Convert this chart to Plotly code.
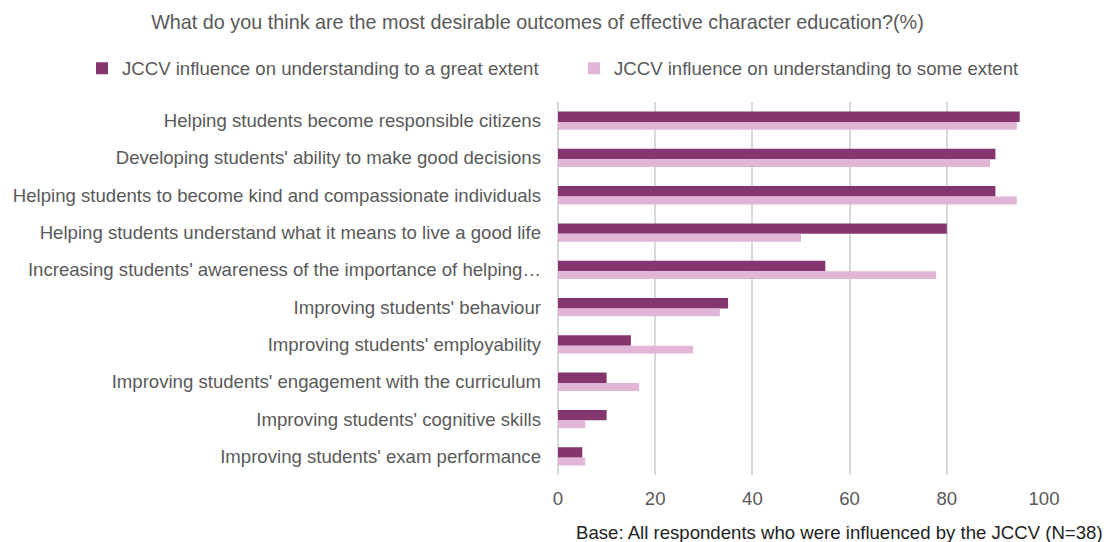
import plotly.graph_objects as go

categories = [
    "Helping students become responsible citizens",
    "Developing students' ability to make good decisions",
    "Helping students to become kind and compassionate individuals",
    "Helping students understand what it means to live a good life",
    "Increasing students' awareness of the importance of helping\u2026",
    "Improving students' behaviour",
    "Improving students' employability",
    "Improving students' engagement with the curriculum",
    "Improving students' cognitive skills",
    "Improving students' exam performance",
]
great_extent = [95, 90, 90, 80, 55, 35, 15, 10, 10, 5]
some_extent = [94.4, 88.9, 94.4, 50.0, 77.8, 33.3, 27.8, 16.7, 5.6, 5.6]
series_names = [
    "JCCV influence on understanding to a great extent",
    "JCCV influence on understanding to some extent",
]
x_ticks = [0, 20, 40, 60, 80, 100]

# page body has an 8px margin; work in window pixels and shift
OFF = 8
W, H = 1111 - OFF, 542 - OFF
ML, MT = 558 - OFF, 101.5 - OFF
MR = 1111 - 1044
MB = 542 - 475
PW = W - ML - MR
PH = H - MT - MB

def px_to_xpaper(px):
    return (px - OFF - ML) / PW

def px_to_ypaper(py):
    return (H - MB - (py - OFF)) / PH

FONT = "Liberation Sans, Arial, sans-serif"
GRAY = "#595959"
FS = 18.6

fig = go.Figure()
fig.add_trace(go.Bar(
    y=categories, x=great_extent, orientation="h", name=series_names[0],
    marker=dict(color="#86366F", line=dict(width=0)),
    offset=-0.245, width=0.28, legend="legend",
))
fig.add_trace(go.Bar(
    y=categories, x=some_extent, orientation="h", name=series_names[1],
    marker=dict(color="#E2B4D6", line=dict(width=0)),
    offset=0.035, width=0.21, legend="legend2",
))

legend_common = dict(
    orientation="h", yanchor="middle", xanchor="left",
    font=dict(family=FONT, size=FS, color=GRAY),
    bgcolor="rgba(0,0,0,0)",
)

fig.update_layout(
    width=W, height=H,
    margin=dict(l=ML, r=MR, t=MT, b=MB, autoexpand=False),
    paper_bgcolor="white", plot_bgcolor="white",
    barmode="overlay",
    font=dict(family=FONT, size=FS, color=GRAY),
    title=dict(
        text="What do you think are the most desirable outcomes of effective character education?(%)",
        x=(537.5 - OFF) / W, xanchor="center", xref="container",
        y=1 - (22 - OFF) / H, yanchor="middle", yref="container",
        font=dict(family=FONT, size=19.8, color=GRAY),
    ),
    legend=dict(x=px_to_xpaper(82), y=px_to_ypaper(68), **legend_common),
    legend2=dict(x=px_to_xpaper(574), y=px_to_ypaper(68), **legend_common),
    xaxis=dict(
        range=[0, 100], tickvals=x_ticks, ticktext=[str(v) for v in x_ticks],
        showgrid=True, gridcolor="#D9D9D9", gridwidth=1.5,
        zeroline=True, zerolinecolor="#D9D9D9", zerolinewidth=1.5,
        showline=False, ticks="", ticklabelstandoff=10,
        tickfont=dict(family=FONT, size=FS, color=GRAY),
        fixedrange=True,
    ),
    yaxis=dict(
        type="category", autorange="reversed",
        showgrid=False, zeroline=False, showline=False, ticks="",
        ticklabelstandoff=16,
        tickfont=dict(family=FONT, size=FS, color=GRAY),
        fixedrange=True,
    ),
    showlegend=True,
)

fig.add_annotation(
    text="Base: All respondents who were influenced by the JCCV (N=38)",
    xref="paper", yref="paper",
    x=px_to_xpaper(1105), xanchor="right",
    y=px_to_ypaper(533), yanchor="middle",
    showarrow=False,
    font=dict(family=FONT, size=FS, color="#222222"),
)

fig.write_html("out.html")
